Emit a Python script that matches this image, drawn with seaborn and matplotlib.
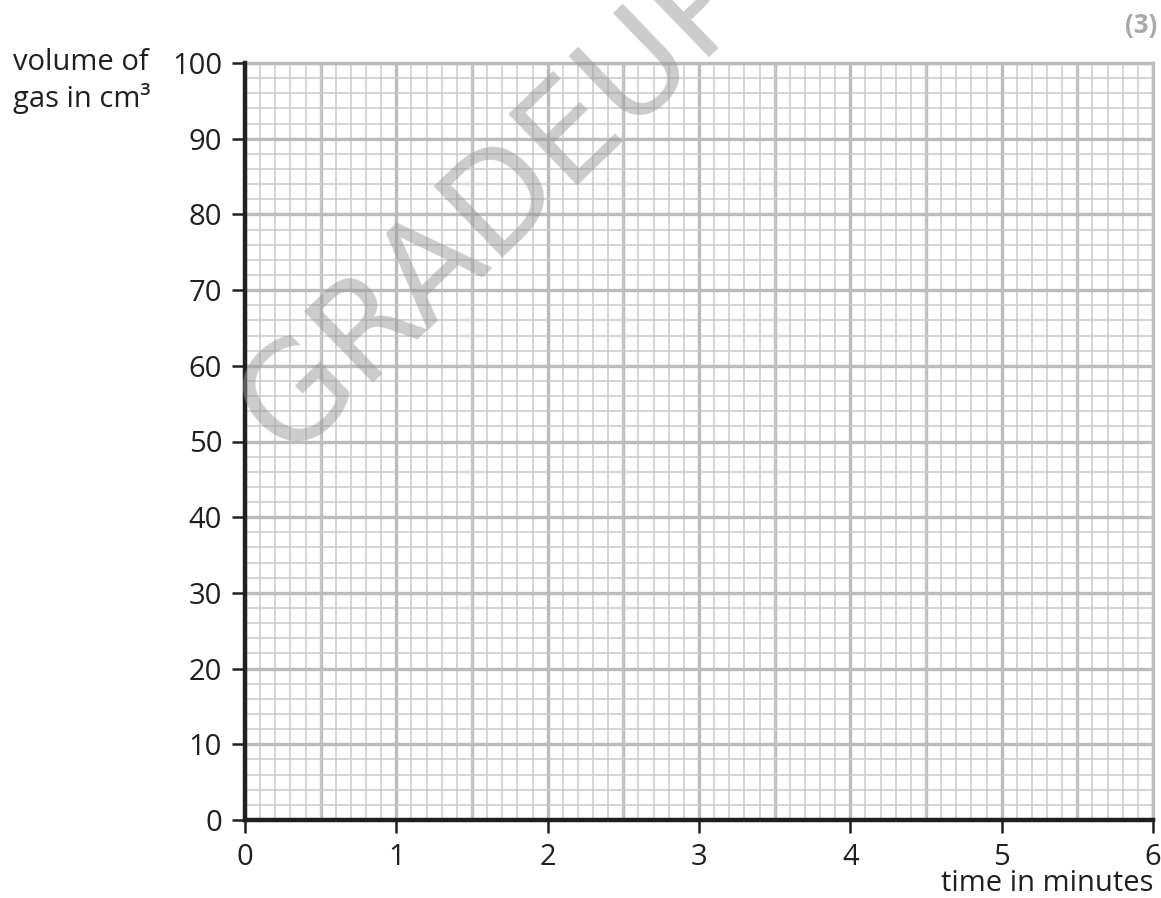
import numpy as np
import matplotlib
matplotlib.use('Agg')
import matplotlib.pyplot as plt
import seaborn as sns

# axis setup (blank graph paper)
x_ticks = [0, 1, 2, 3, 4, 5, 6]
y_ticks = [0, 10, 20, 30, 40, 50, 60, 70, 80, 90, 100]
x_half = [0.5, 1.5, 2.5, 3.5, 4.5, 5.5]
time_min = []
volume_cm3 = []

sns.set_style('white')
plt.rcParams['font.family'] = ['Open Sans', 'DejaVu Sans']

fig = plt.figure(figsize=(11.61, 8.98), dpi=100)
ax = fig.add_axes([245/1161, 78/898, 908/1161, 757/898])

sns.scatterplot(x=time_min, y=volume_cm3, ax=ax)

ax.set_xlim(0, 6)
ax.set_ylim(0, 100)
ax.set_xticks(x_ticks)
ax.set_yticks(y_ticks)
ax.set_xticks(np.arange(0, 6.01, 0.1), minor=True)
ax.set_yticks(np.arange(0, 100.1, 2), minor=True)

minor_col = '#cacace'
major_col = '#bcbcc0'
ax.grid(which='minor', color=minor_col, lw=1.1, zorder=0)
ax.grid(which='major', color=major_col, lw=2.4, zorder=0.5)
for xv in x_half:
    ax.axvline(xv, color=major_col, lw=2.4, zorder=0.5)
ax.set_axisbelow(True)

ax.tick_params(which='minor', length=0)
ax.tick_params(which='major', direction='out', length=9.5, width=1.8,
               color='#231f20', labelsize=21, labelcolor='#231f20', pad=7)
ax.tick_params(axis='x', which='major', bottom=True)
ax.tick_params(axis='y', which='major', left=True)

for s in ['left', 'bottom']:
    ax.spines[s].set_color('#231f20')
    ax.spines[s].set_linewidth(3.2)
    ax.spines[s].set_zorder(3)
for s in ['top', 'right']:
    ax.spines[s].set_color(major_col)
    ax.spines[s].set_linewidth(2.4)

fig.text(13/1161, 1 - 62/898, 'volume of', fontsize=21, color='#231f20',
         ha='left', va='center')
fig.text(13/1161, 1 - 99/898, 'gas in cm\u00b3', fontsize=21, color='#231f20',
         ha='left', va='center')
fig.text(1153/1161, 1 - 891/898, 'time in minutes', fontsize=21, color='#231f20',
         ha='right', va='baseline')
fig.text(1157/1161, 1 - 25/898, '(3)', fontsize=18.5, color='#a7a9ac',
         fontweight='bold', ha='right', va='center')

# watermark
fig.text(522/1161, 1 - 232/898, 'GRADEUP', fontsize=97, color='#999999',
         alpha=0.5, rotation=44, ha='center', va='baseline',
         family='DejaVu Sans', rotation_mode='anchor', zorder=10)

fig.savefig('out.png', dpi=100)
